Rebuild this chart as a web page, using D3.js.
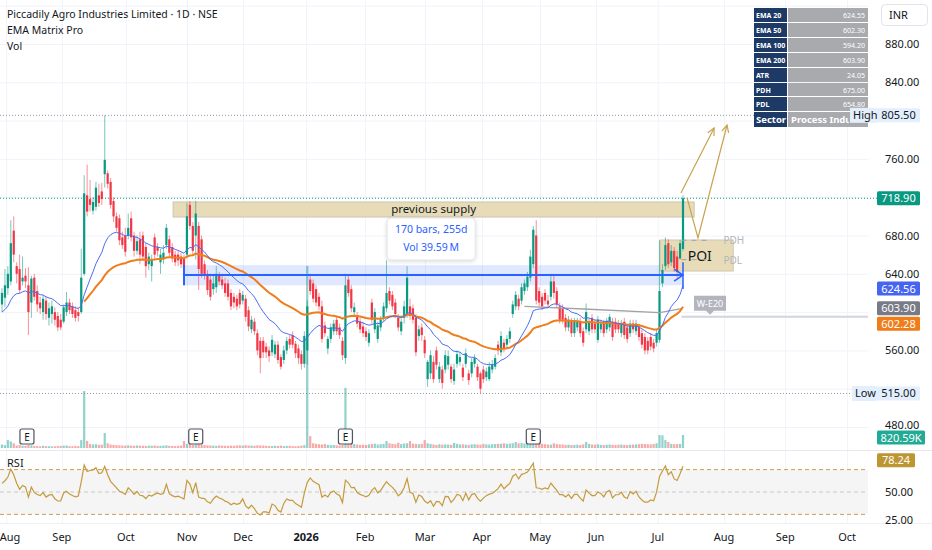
<!DOCTYPE html>
<html><head><meta charset="utf-8">
<script src="https://cdn.jsdelivr.net/npm/d3@7"></script>
<style>
body{margin:0;background:#fff;}
svg{display:block;font-family:'Noto Sans','Open Sans',sans-serif;}
</style>
</head><body>
<svg id="chart" width="932" height="550"></svg>
<script>
// ---------------- DATA ----------------
const opens=[608,615,625,632,685,648,645,632,638,628,610,636,622,610,600,612,594,598,600,596,592,
590,600,610,606,602,600,600,640,722,718,706,710,722,726,744,745,736,716,700,698,
678,680,680,698,680,664,676,680,668,650,648,678,668,652,656,670,676,668,660,660,658,656,
660,712,690,680,690,676,650,640,634,624,626,638,634,630,630,620,616,614,620,612,614,602,582,590,578,570,570,564,560,558,556,566,553,550,560,572,576,567,562,556,546,
560,634,630,624,616,606,586,562,572,580,592,584,570,552,
634,624,600,596,590,585,580,568,610,582,572,584,594,604,622,618,610,594,580,594,598,606,604,594,575,584,571,530,
536,548,560,530,540,540,545,543,528,546,548,542,546,536,536,
546,543,536,540,532,530,540,543,566,558,568,566,572,598,606,
614,612,622,626,636,650,680,622,616,620,612,616,632,622,606,
604,594,584,590,578,584,590,580,582,580,594,588,571,582,588,
582,584,590,590,588,578,590,584,578,588,580,585,578,574,570,
574,568,568,571,630,648,672,652,664,658,656,666];
const highs=[625,645,648,696,700,652,660,658,646,647,638,640,628,616,618,616,610,612,605,600,598,
608,621,614,610,606,605,666,743,754,738,720,736,734,735,805.5,748,740,720,704,702,
684,688,703,705,684,680,684,684,672,662,660,682,672,666,670,692,680,672,664,664,662,660,
714,716,694,716,694,680,654,644,640,640,648,642,640,636,634,624,620,618,624,622,618,606,596,594,582,574,574,568,564,576,570,570,556,565,574,576,580,570,566,560,580,
612,640,634,628,620,612,590,575,588,592,596,588,574,640,
638,628,610,600,594,590,584,582,614,604,590,596,610,654,626,622,614,598,594,612,648,614,608,598,586,588,575,550,
560,554,564,548,544,560,560,546,546,560,558,546,562,540,552,
556,546,538,544,542,548,550,556,570,580,572,576,584,612,622,
618,630,634,642,665,690,696,626,620,624,618,640,640,626,610,
608,598,596,594,594,594,594,584,609,594,598,592,596,592,592,
594,598,594,594,592,592,594,588,592,592,592,588,582,578,574,
578,572,582,675,650,678,676,670,668,664,675,722];
const lows=[600,605,618,628,652,630,620,628,625,576,594,612,600,598,592,592,586,588,586,580,581,
588,596,598,594,590,590,598,638,700,705,702,706,710,712,730,729,708,694,684,670,
666,658,676,674,658,660,650,654,636,644,632,656,658,640,650,666,658,652,648,648,646,642,
656,686,660,655,623,636,634,618,612,618,620,628,624,616,612,602,604,602,604,608,590,580,578,576,555,536,552,552,548,554,552,546,540,546,556,562,562,552,546,540,542,
545,618,610,606,602,568,574,556,568,576,576,572,550,546,
616,600,596,584,578,574,570,564,588,578,568,580,590,600,608,602,594,580,576,588,594,592,588,554,570,570,552,522,
530,526,540,526,520,536,540,526,524,542,544,528,542,524,532,
542,528,515,526,528,528,536,540,555,554,558,562,568,594,602,
602,608,618,622,632,646,608,606,602,608,604,612,614,604,588,
588,580,580,574,574,580,574,564,578,576,578,578,568,578,574,
578,580,570,578,578,574,572,568,574,578,576,570,562,556,556,
560,558,564,568,626,644,646,648,642,636,654.8,664];
const closes=[620,628,640,672,660,640,623,636,632,600,635,616,608,604,614,598,604,606,592,584,584,
605,610,602,598,594,596,636,724,705,712,715,730,714,718,759,734,712,700,688,675,
670,663,688,678,664,674,660,658,648,658,655,660,664,660,662,688,662,656,652,654,650,646,
700,690,664,703,645,640,638,623,616,630,640,632,628,620,616,606,610,606,608,618,595,585,592,580,560,552,558,558,554,571,566,550,543,560,570,566,566,557,552,546,575,
606,622,614,610,606,572,578,572,584,588,580,576,555,628,
620,604,605,588,582,578,574,578,592,600,586,592,606,620,612,606,598,584,590,606,636,596,592,558,582,576,557,548,
555,530,545,543,526,555,554,530,540,556,553,532,557,529,548,
552,532,520,530,538,543,545,552,560,575,562,572,580,608,618,
606,626,630,637,658,686,612,610,606,612,608,632,620,608,592,
592,584,592,578,590,590,578,568,600,590,582,582,592,588,578,
591,595,574,582,582,588,576,572,588,582,588,574,566,560,560,
564,562,578,622,644,670,650,664,646,642,672,718.9];
// volume in thousands
const volumesK=[220,180,500,420,300,160,180,150,140,200,170,130,120,110,140,120,110,100,110,120,130,
150,160,120,110,130,120,500,3600,450,250,220,240,200,210,950,300,220,200,180,170,
160,150,170,150,140,160,150,140,130,150,140,160,130,140,150,170,140,130,120,140,150,440,
260,240,200,220,250,200,180,170,160,150,140,160,150,140,130,150,140,160,170,150,180,160,150,140,170,160,150,140,130,120,140,130,150,120,130,140,120,110,130,150,180,
11500,750,300,260,240,220,250,200,180,190,170,160,200,3800,
500,300,250,220,200,210,190,230,250,280,220,240,260,440,300,260,240,330,250,280,300,440,280,250,240,260,500,300,
250,220,200,240,210,230,220,200,320,260,220,230,210,200,230,
240,220,210,260,230,220,240,250,260,270,300,260,280,300,380,
300,320,280,300,380,520,450,300,260,240,220,210,300,250,230,
220,200,210,190,200,210,190,230,380,260,220,210,240,200,190,
210,220,200,190,210,220,200,190,210,220,230,240,260,250,240,
230,250,300,820,800,500,380,260,240,250,260,820.59];

const monthLabels=["Aug","Sep","Oct","Nov","Dec","2026","Feb","Mar","Apr","May","Jun","Jul","Aug","Sep","Oct"];
const monthBarIdx=[1.4,20.4,42.2,63.0,82.1,103.6,123.7,144.1,163.5,183.3,202.4,223.4,246.0,266.8,287.9];
// visible price-axis labels (others hidden behind price tags)
const priceTicks=[480,560,640,680,760,840,880];
const gridPrices=[480,520,560,600,640,680,720,760,800,840,880,920];

// indicator seeds
const ema20Seed=600, ema50Start=28, ema50Seed=611;
const rsiSeedGain=6, rsiSeedLoss=4.4;
// EMA 200 (gray) read points
const ema200Idx=[178,200,224,232];
const ema200Val=[606,603,599.5,603.9];
const wE20Price=595.2;
const ema20Last=624.56, ema50Last=602.28, ema200Last=603.90, rsiLast=78.24;

const tableKeys=["EMA 20","EMA 50","EMA 100","EMA 200","ATR","PDH","PDL","Sector"];
const tableVals=["624.55","602.30","594.20","603.90","24.05","675.00","654.80","Process Industries"];

const earningsIdx=[8.5,66,117,181];
const highPrice=805.5, lowPrice=515, lastPrice=718.9, pdh=675, pdl=654.8;

// ---------------- SCALES ----------------
const N=closes.length;
const svg=d3.select("#chart");
const plotRight=868;
const x=d3.scaleLinear().domain([0,232]).range([2,683]);
const y=d3.scaleLinear().domain([480,880]).range([427,44]);
const yR=d3.scaleLinear().domain([25,50]).range([520,492]);
const yV=d3.scaleLinear().domain([0,11500]).range([448,266]);

const UP="#089981", DN="#f23645";
const AX="#131722";

// ---------------- INDICATORS ----------------
const ema20=[];{let e=ema20Seed;closes.forEach((c,i)=>{if(i>0)e=e+(c-e)*2/21;ema20.push(e);});}
const ema50=[];{let e=ema50Seed;for(let i=ema50Start;i<N;i++){if(i>ema50Start)e=e+(closes[i]-e)*2/51;ema50.push([i,e]);}}
const rsi=[];{let g=rsiSeedGain,l=rsiSeedLoss;for(let i=0;i<N;i++){if(i>0){const ch=closes[i]-closes[i-1];g=(g*13+Math.max(ch,0))/14;l=(l*13+Math.max(-ch,0))/14;}rsi.push(100-100/(1+g/l));}}

// ---------------- GRID ----------------
const g0=svg.append("g");
gridPrices.forEach(p=>g0.append("line").attr("x1",0).attr("x2",plotRight).attr("y1",y(p)+0.5).attr("y2",y(p)+0.5).attr("stroke","#f0f3fa"));
monthBarIdx.forEach(m=>g0.append("line").attr("x1",x(m)+0.5).attr("x2",x(m)+0.5).attr("y1",0).attr("y2",523).attr("stroke","#f0f3fa"));
g0.append("line").attr("x1",0).attr("x2",932).attr("y1",450.5).attr("y2",450.5).attr("stroke","#e6e8ee");
g0.append("line").attr("x1",0).attr("x2",932).attr("y1",523.5).attr("y2",523.5).attr("stroke","#eef0f3");

g0.append("line").attr("x1",0).attr("x2",850).attr("y1",y(highPrice)).attr("y2",y(highPrice)).attr("stroke","#9598a1").attr("stroke-dasharray","1,2");
g0.append("line").attr("x1",0).attr("x2",852).attr("y1",y(lowPrice)).attr("y2",y(lowPrice)).attr("stroke","#9598a1").attr("stroke-dasharray","1,2");
g0.append("line").attr("x1",0).attr("x2",877).attr("y1",y(lastPrice)).attr("y2",y(lastPrice)).attr("stroke","#089981").attr("stroke-dasharray","1,2");

// ---------------- VOLUME ----------------
const gv=svg.append("g");
volumesK.forEach((v,i)=>{if(i>=N)return;const up=closes[i]>=opens[i];
 gv.append("rect").attr("x",x(i)-1.1).attr("width",2.2).attr("y",yV(v)).attr("height",448-yV(v))
 .attr("fill",up?"rgba(38,166,154,0.5)":"rgba(239,83,80,0.5)");});

earningsIdx.forEach(e=>{const cx=x(e);
 svg.append("rect").attr("x",cx-7).attr("y",429).attr("width",14).attr("height",15).attr("rx",2).attr("fill","#fff").attr("stroke","#50535e").attr("stroke-width",1.2);
 svg.append("text").attr("x",cx).attr("y",440.5).attr("text-anchor","middle").attr("font-size",10).attr("fill",AX).text("E");});

// ---------------- ZONES ----------------
svg.append("rect").attr("x",x(58.3)).attr("y",y(715)).attr("width",x(235.8)-x(58.3)).attr("height",y(699.3)-y(715))
 .attr("fill","#e8dcb8").attr("stroke","#c9c3b3").attr("stroke-width",1);
svg.append("text").attr("x",(x(58.3)+x(235.8))/2).attr("y",y(707.2)+4).attr("text-anchor","middle").attr("font-size",11.5).attr("fill",AX).text("previous supply");
svg.append("rect").attr("x",x(62)).attr("y",y(649)).attr("width",x(232)-x(62)).attr("height",y(628)-y(649)).attr("fill","rgba(41,98,255,0.15)");
svg.append("rect").attr("x",x(224.2)).attr("y",y(675.3)).attr("width",x(249.1)-x(224.2)).attr("height",y(642.9)-y(675.3))
 .attr("fill","#e8dcb8").attr("stroke","#cfc6ad");

// ---------------- CANDLES ----------------
const gc=svg.append("g");
for(let i=0;i<N;i++){const up=closes[i]>=opens[i];const col=up?UP:DN;const cx=x(i);
 gc.append("line").attr("x1",cx).attr("x2",cx).attr("y1",y(highs[i])).attr("y2",y(lows[i])).attr("stroke",col).attr("stroke-opacity",0.55).attr("stroke-width",1);
 const t=y(Math.max(opens[i],closes[i])),b=y(Math.min(opens[i],closes[i]));
 gc.append("rect").attr("x",cx-1.1).attr("width",2.2).attr("y",t).attr("height",Math.max(1,b-t)).attr("fill",col);}

// ---------------- LINES ----------------
const line=d3.line().x(d=>x(d[0])).y(d=>y(d[1]));
svg.append("path").attr("d",line(ema200Idx.map((v,i)=>[v,ema200Val[i]]))).attr("fill","none").attr("stroke","#a3a3a3").attr("stroke-width",1.3);
svg.append("path").attr("d",line(ema50)).attr("fill","none").attr("stroke","#ef7d1a").attr("stroke-width",2);
svg.append("path").attr("d",line(ema20.map((v,i)=>[i,v]))).attr("fill","none").attr("stroke","#4a6cf7").attr("stroke-width",1);

svg.append("line").attr("x1",x(62)).attr("x2",x(232)).attr("y1",y(638.7)).attr("y2",y(638.7)).attr("stroke","#2962ff").attr("stroke-width",2);
svg.append("line").attr("x1",x(62)).attr("x2",x(62)).attr("y1",y(649)).attr("y2",y(628)).attr("stroke","#2962ff").attr("stroke-width",2);
svg.append("line").attr("x1",x(232)).attr("x2",x(232)).attr("y1",y(652)).attr("y2",y(624)).attr("stroke","#2962ff").attr("stroke-width",1.5);
svg.append("path").attr("d",`M${x(229)},${y(645)}L${x(232)},${y(638.7)}L${x(229)},${y(632.4)}`).attr("fill","none").attr("stroke","#2962ff").attr("stroke-width",1.5);
const tip=svg.append("g");
tip.append("rect").attr("x",x(131.2)).attr("y",218).attr("width",x(161.2)-x(131.2)).attr("height",42).attr("rx",4).attr("fill","#fff").attr("stroke","#e4e6eb").style("filter","drop-shadow(0 1px 2px rgba(0,0,0,0.15))");
tip.append("text").attr("x",(x(131.2)+x(161.2))/2).attr("y",233).attr("text-anchor","middle").attr("font-size",10.5).attr("fill","#2962ff").text("170 bars, 255d");
tip.append("text").attr("x",(x(131.2)+x(161.2))/2).attr("y",251).attr("text-anchor","middle").attr("font-size",10.5).attr("fill","#2962ff").text("Vol 39.59\u2009M");

svg.append("text").attr("x",x(233.6)).attr("y",y(659)+5).attr("font-size",14).attr("fill",AX).text("POI");
[[pdh,"PDH"],[pdl,"PDL"]].forEach(([p,t])=>{
 svg.append("line").attr("x1",x(231.5)).attr("x2",x(240.5)).attr("y1",y(p)).attr("y2",y(p)).attr("stroke","#a0a3ab").attr("stroke-dasharray","5,5");
 svg.append("text").attr("x",x(245.8)).attr("y",y(p)+4).attr("font-size",10).attr("fill","#b2b5be").text(t);});

svg.append("line").attr("x1",x(231.5)).attr("x2",plotRight).attr("y1",y(wE20Price)).attr("y2",y(wE20Price)).attr("stroke","#d1d4dc").attr("stroke-width",2);
{const cx=x(241.2),cy=y(wE20Price)-13;
 svg.append("path").attr("d",`M${cx-16},${cy-8}h32v15h-12l-4,4l-4,-4h-12z`).attr("fill","#b2b5be");
 svg.append("text").attr("x",cx).attr("y",cy+3.5).attr("text-anchor","middle").attr("font-size",9).attr("fill","#fff").text("W-E20");}

const gold="#c9a24e";
function arrow(pts){const p=pts.map(d=>[x(d[0]),y(d[1])]);
 svg.append("path").attr("d",d3.line()(p)).attr("fill","none").attr("stroke",gold).attr("stroke-width",1.2);
 const a=p[p.length-2],b=p[p.length-1];const ang=Math.atan2(b[1]-a[1],b[0]-a[0]);const L=8;
 const h1=[b[0]-L*Math.cos(ang-0.45),b[1]-L*Math.sin(ang-0.45)],h2=[b[0]-L*Math.cos(ang+0.45),b[1]-L*Math.sin(ang+0.45)];
 svg.append("path").attr("d",`M${h1}L${b}L${h2}`).attr("fill","none").attr("stroke",gold).attr("stroke-width",1.2);}
arrow([[231.3,724.4],[242.6,792.3]]);
arrow([[233.4,719.2],[237.1,677.4],[247.0,795.4]]);

// ---------------- RSI ----------------
const gr=svg.append("g");
gr.append("rect").attr("x",0).attr("y",yR(70)).attr("width",plotRight).attr("height",yR(30)-yR(70)).attr("fill","#f5f5f5");
[70,30].forEach(v=>gr.append("line").attr("x1",0).attr("x2",plotRight).attr("y1",yR(v)).attr("y2",yR(v)).attr("stroke","#c9a24e").attr("stroke-dasharray","4,3"));
gr.append("line").attr("x1",0).attr("x2",plotRight).attr("y1",yR(50)).attr("y2",yR(50)).attr("stroke","#c8c9cc").attr("stroke-dasharray","4,3");
gr.append("path").attr("d",d3.line().x((d,i)=>x(i)).y(d=>yR(d))(rsi)).attr("fill","none").attr("stroke","#c49a3c").attr("stroke-width",1.2);
gr.append("text").attr("x",7).attr("y",467).attr("font-size",11).attr("fill",AX).text("RSI");

// ---------------- TITLE ----------------
svg.append("text").attr("x",7).attr("y",18).attr("font-size",10.5).attr("fill",AX).text("Piccadily Agro Industries Limited \u00b7 1D \u00b7 NSE");
svg.append("text").attr("x",7).attr("y",34).attr("font-size",10.5).attr("fill",AX).text("EMA Matrix Pro");
svg.append("text").attr("x",7).attr("y",50).attr("font-size",10.5).attr("fill",AX).text("Vol");

// ---------------- TIME AXIS ----------------
monthLabels.forEach((m,i)=>svg.append("text").attr("x",Math.max(x(monthBarIdx[i]),10)).attr("y",541).attr("text-anchor","middle")
 .attr("font-size",11).attr("font-weight",m==="2026"?"bold":"normal").attr("fill",AX).text(m));

// ---------------- PRICE AXIS ----------------
priceTicks.forEach(p=>svg.append("text").attr("x",885).attr("y",y(p)+(p===480?2:4)).attr("font-size",11).attr("fill",AX).text(p.toFixed(2)));
svg.append("text").attr("x",885).attr("y",yR(50)+4).attr("font-size",11).attr("fill",AX).text("50.00");
svg.append("text").attr("x",885).attr("y",yR(25)+4).attr("font-size",11).attr("fill",AX).text("25.00");
svg.append("rect").attr("x",881.5).attr("y",4.5).attr("width",46).attr("height",21).attr("rx",4).attr("fill","#fff").attr("stroke","#e0e3eb");
svg.append("text").attr("x",889).attr("y",19).attr("font-size",11).attr("fill",AX).text("INR");

function tag(cy,txt,bg,fg,w){svg.append("rect").attr("x",877).attr("y",cy-7).attr("width",w||43).attr("height",14).attr("rx",1.5).attr("fill",bg);
 svg.append("text").attr("x",877+(w||43)/2).attr("y",cy+4).attr("text-anchor","middle").attr("font-size",11).attr("fill",fg).text(txt);}

// ---------------- TABLE ----------------
svg.append("defs").append("clipPath").attr("id","tclip").append("rect").attr("x",754).attr("y",0).attr("width",95).attr("height",140);
const tb=svg.append("g");
const rowY=[8,23,38,53,68,83,97,112], rowH=[15,15,15,15,15,14,15,16];
tableKeys.forEach((k,i)=>{const last=i===tableKeys.length-1;
 tb.append("rect").attr("x",754).attr("y",rowY[i]).attr("width",33).attr("height",rowH[i]-1).attr("fill","#1d3a66");
 tb.append("rect").attr("x",788).attr("y",rowY[i]).attr("width",80).attr("height",rowH[i]-1).attr("fill","#a8aaae");
 tb.append("text").attr("x",756).attr("y",rowY[i]+rowH[i]/2+2.5).attr("font-size",last?9.5:7).attr("font-weight","bold").attr("fill","#fff").text(k);
 if(last) tb.append("text").attr("x",791).attr("y",rowY[i]+rowH[i]/2+3).attr("font-size",9.5).attr("font-weight","bold").attr("fill","#fff").attr("clip-path","url(#tclip)").text(tableVals[i]);
 else tb.append("text").attr("x",865).attr("y",rowY[i]+rowH[i]/2+2.5).attr("text-anchor","end").attr("font-size",7).attr("fill","#fff").text(tableVals[i]);});

// price tags
svg.append("rect").attr("x",850).attr("y",y(highPrice)-7.5).attr("width",27).attr("height",15).attr("fill","#e3effd");
svg.append("text").attr("x",853).attr("y",y(highPrice)+3.5).attr("font-size",11).attr("fill",AX).text("High");
tag(y(highPrice),highPrice.toFixed(2),"#e3effd",AX);
svg.append("rect").attr("x",852).attr("y",y(lowPrice)-7.5).attr("width",25).attr("height",15).attr("fill","#e3effd");
svg.append("text").attr("x",855).attr("y",y(lowPrice)+3.5).attr("font-size",11).attr("fill",AX).text("Low");
tag(y(lowPrice),lowPrice.toFixed(2),"#e3effd",AX);
tag(y(lastPrice),lastPrice.toFixed(2),"#089981","#fff");
tag(y(ema20Last),ema20Last.toFixed(2),"#4664f0","#fff");
tag(y(ema200Last),ema200Last.toFixed(2),"#787b86","#fff");
tag(y(ema200Last)+15.5,ema50Last.toFixed(2),"#ef7d1a","#fff");
tag(437.5,"820.59K","#22ab94","#fff",48);
tag(yR(rsiLast),rsiLast.toFixed(2),"#bd9632","#fff",38);
</script>
</body></html>
